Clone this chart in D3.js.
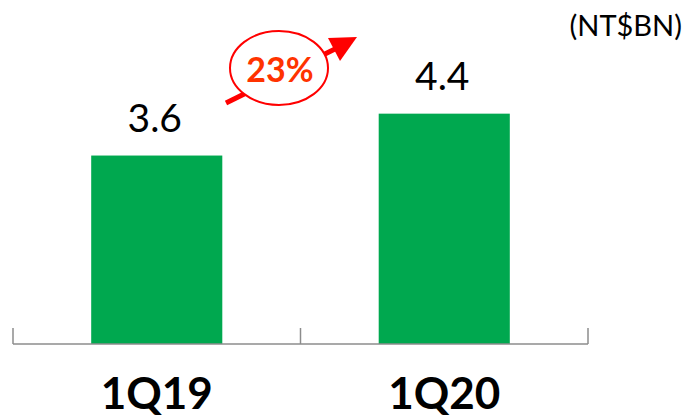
<!DOCTYPE html>
<html><head><meta charset="utf-8">
<script src="https://cdn.jsdelivr.net/npm/d3@7"></script>
<style>body{margin:0;background:#fff}svg{display:block}</style>
</head><body>
<svg id="c" width="689" height="417"></svg>
<script>
const categories = ["1Q19", "1Q20"];
const values = [3.6, 4.4];
const valueLabels = ["3.6", "4.4"];
const growthLabel = "23%";
const unitLabel = "(NT$BN)";

const svg = d3.select("#c");
const font = "Lato, 'Open Sans', sans-serif";
const x = d3.scaleBand().domain(categories).range([13, 588]).paddingInner(0.544).paddingOuter(0.272);
const y = d3.scaleLinear().domain([0, 6]).range([344, 29.9]);

// bars
svg.selectAll("rect.bar").data(values).join("rect")
  .attr("class","bar")
  .attr("x",(d,i)=>x(categories[i]))
  .attr("width",x.bandwidth())
  .attr("y",d=>y(d))
  .attr("height",d=>y(0)-y(d))
  .attr("fill","#00a84f");

// axis baseline + ticks at band edges
const axisG = svg.append("g").attr("transform",`translate(0,${y(0)})`);
axisG.append("line").attr("x1",13).attr("x2",588).attr("y1",0).attr("y2",0)
  .attr("stroke","#8c8c8c").attr("stroke-width",1.5);
const edges = [13, 13 + x.step(), 588];
axisG.selectAll("line.tk").data(edges).join("line").attr("class","tk")
  .attr("x1",d=>d).attr("x2",d=>d).attr("y1",-16).attr("y2",0)
  .attr("stroke","#8c8c8c").attr("stroke-width",1.5);

// category labels
svg.selectAll("text.cat").data(categories).join("text").attr("class","cat")
  .attr("x",d=>x(d)+x.bandwidth()/2)
  .attr("y",409)
  .attr("text-anchor","middle")
  .attr("font-family",font).attr("font-weight","bold").attr("font-size",44)
  .attr("fill","#000").text(d=>d);

// value labels
svg.selectAll("text.val").data(values).join("text").attr("class","val")
  .attr("x",(d,i)=>x(categories[i])+x.bandwidth()/2 - 2)
  .attr("y",d=>y(d)-24)
  .attr("text-anchor","middle")
  .attr("font-family",font).attr("font-size",39)
  .attr("fill","#000").text((d,i)=>valueLabels[i]);

// unit label
svg.append("text").attr("x",682).attr("y",36).attr("text-anchor","end")
  .attr("font-family",font).attr("font-size",29).attr("fill","#000").text(unitLabel);

// growth arrow
svg.append("line").attr("x1",226).attr("y1",103).attr("x2",336).attr("y2",48.5)
  .attr("stroke","#ff0000").attr("stroke-width",5);
svg.append("path").attr("d","M357,37 L328,38 L340,61 Z").attr("fill","#ff0000");
svg.append("ellipse").attr("cx",279).attr("cy",68).attr("rx",49).attr("ry",37)
  .attr("fill","#fff").attr("stroke","#ff0000").attr("stroke-width",2);
svg.append("text").attr("x",280).attr("y",82).attr("text-anchor","middle")
  .attr("font-family",font).attr("font-weight","bold").attr("font-size",34)
  .attr("fill","#ff3300").text(growthLabel);
</script>
</body></html>
